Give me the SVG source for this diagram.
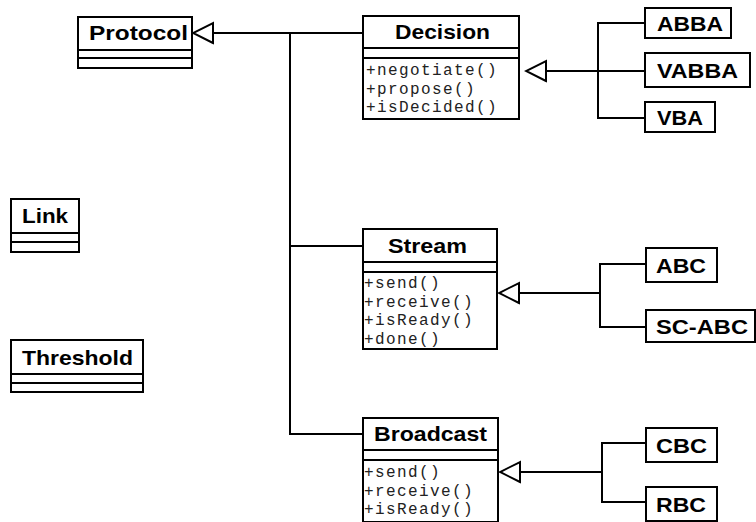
<svg xmlns="http://www.w3.org/2000/svg" width="756" height="522" viewBox="0 0 756 522">
<style>
.box{fill:#fff;stroke:#000;stroke-width:2}
.sep{stroke:#000;stroke-width:2}
.t{font-family:"Liberation Sans",Arial,sans-serif;font-weight:bold;font-size:21px;fill:#000}
.m{font-family:"Liberation Mono","Courier New",monospace;font-size:16px;letter-spacing:1.4px;fill:#222}
.c{fill:none;stroke:#000;stroke-width:2}
.g{fill:none;stroke:#000;stroke-width:2;marker-end:url(#tri)}
</style>
<defs>
<marker id="tri" viewBox="-2 -2 24 24" refX="20" refY="10" markerWidth="24" markerHeight="24" markerUnits="userSpaceOnUse" orient="auto">
<path d="M0,0 L20,10 L0,20 Z" fill="#fff" stroke="#000" stroke-width="2"/>
</marker>
</defs>
<g id="connectors">
<path class="g" d="M363,33 H193"/>
<path class="c" d="M290,33 V434 H363 M290,246 H363"/>
<path class="g" d="M598,71 H526"/>
<path class="c" d="M645,23 H598 V118 H645 M598,71 H645"/>
<path class="g" d="M600,293 H499"/>
<path class="c" d="M646,264 H600 V327 H646"/>
<path class="g" d="M602,472 H500"/>
<path class="c" d="M646,443 H602 V502 H646"/>
</g>
<g id="Protocol">
<rect class="box" x="78" y="17" width="114" height="51"/>
<line class="sep" x1="78" y1="50" x2="192" y2="50"/>
<line class="sep" x1="78" y1="58" x2="192" y2="58"/>
<text class="t" x="89" y="40" textLength="99" lengthAdjust="spacingAndGlyphs">Protocol</text>
</g>
<g id="Link">
<rect class="box" x="11" y="199" width="68" height="53"/>
<line class="sep" x1="11" y1="233" x2="79" y2="233"/>
<line class="sep" x1="11" y1="242" x2="79" y2="242"/>
<text class="t" x="22" y="223" textLength="46" lengthAdjust="spacingAndGlyphs">Link</text>
</g>
<g id="Threshold">
<rect class="box" x="11" y="340" width="132" height="52"/>
<line class="sep" x1="11" y1="374" x2="143" y2="374"/>
<line class="sep" x1="11" y1="383" x2="143" y2="383"/>
<text class="t" x="22" y="365" textLength="111" lengthAdjust="spacingAndGlyphs">Threshold</text>
</g>
<g id="Decision">
<rect class="box" x="363" y="16" width="156" height="103"/>
<line class="sep" x1="363" y1="48" x2="519" y2="48"/>
<line class="sep" x1="363" y1="58" x2="519" y2="58"/>
<text class="t" x="395" y="39" textLength="95" lengthAdjust="spacingAndGlyphs">Decision</text>
<text class="m" x="366" y="75">+negotiate()</text>
<text class="m" x="366" y="93.5">+propose()</text>
<text class="m" x="366" y="112">+isDecided()</text>
</g>
<g id="Stream">
<rect class="box" x="363" y="229" width="134" height="120"/>
<line class="sep" x1="363" y1="262" x2="497" y2="262"/>
<line class="sep" x1="363" y1="272" x2="497" y2="272"/>
<text class="t" x="388" y="252.5" textLength="79" lengthAdjust="spacingAndGlyphs">Stream</text>
<text class="m" x="364" y="288">+send()</text>
<text class="m" x="364" y="306.5">+receive()</text>
<text class="m" x="364" y="325">+isReady()</text>
<text class="m" x="364" y="343.5">+done()</text>
</g>
<g id="Broadcast">
<rect class="box" x="363" y="418" width="135" height="104"/>
<line class="sep" x1="363" y1="450" x2="498" y2="450"/>
<line class="sep" x1="363" y1="460" x2="498" y2="460"/>
<text class="t" x="374" y="441" textLength="113" lengthAdjust="spacingAndGlyphs">Broadcast</text>
<text class="m" x="364" y="477">+send()</text>
<text class="m" x="364" y="495.5">+receive()</text>
<text class="m" x="364" y="514">+isReady()</text>
</g>
<g id="ABBA">
<rect class="box" x="645" y="8" width="86" height="30"/>
<text class="t" x="657" y="30.5" textLength="66" lengthAdjust="spacingAndGlyphs">ABBA</text>
</g>
<g id="VABBA">
<rect class="box" x="645" y="53" width="105" height="34"/>
<text class="t" x="657" y="77.5" textLength="81" lengthAdjust="spacingAndGlyphs">VABBA</text>
</g>
<g id="VBA">
<rect class="box" x="645" y="102" width="70" height="30"/>
<text class="t" x="657" y="124.5" textLength="46" lengthAdjust="spacingAndGlyphs">VBA</text>
</g>
<g id="ABC">
<rect class="box" x="646" y="248" width="71" height="34"/>
<text class="t" x="656" y="272.5" textLength="50" lengthAdjust="spacingAndGlyphs">ABC</text>
</g>
<g id="SC-ABC">
<rect class="box" x="646" y="310" width="109" height="32"/>
<text class="t" x="656" y="333.5" textLength="92" lengthAdjust="spacingAndGlyphs">SC-ABC</text>
</g>
<g id="CBC">
<rect class="box" x="646" y="428" width="71" height="34"/>
<text class="t" x="656" y="452.5" textLength="51" lengthAdjust="spacingAndGlyphs">CBC</text>
</g>
<g id="RBC">
<rect class="box" x="646" y="487" width="71" height="34"/>
<text class="t" x="656" y="511.5" textLength="50" lengthAdjust="spacingAndGlyphs">RBC</text>
</g>
</svg>
